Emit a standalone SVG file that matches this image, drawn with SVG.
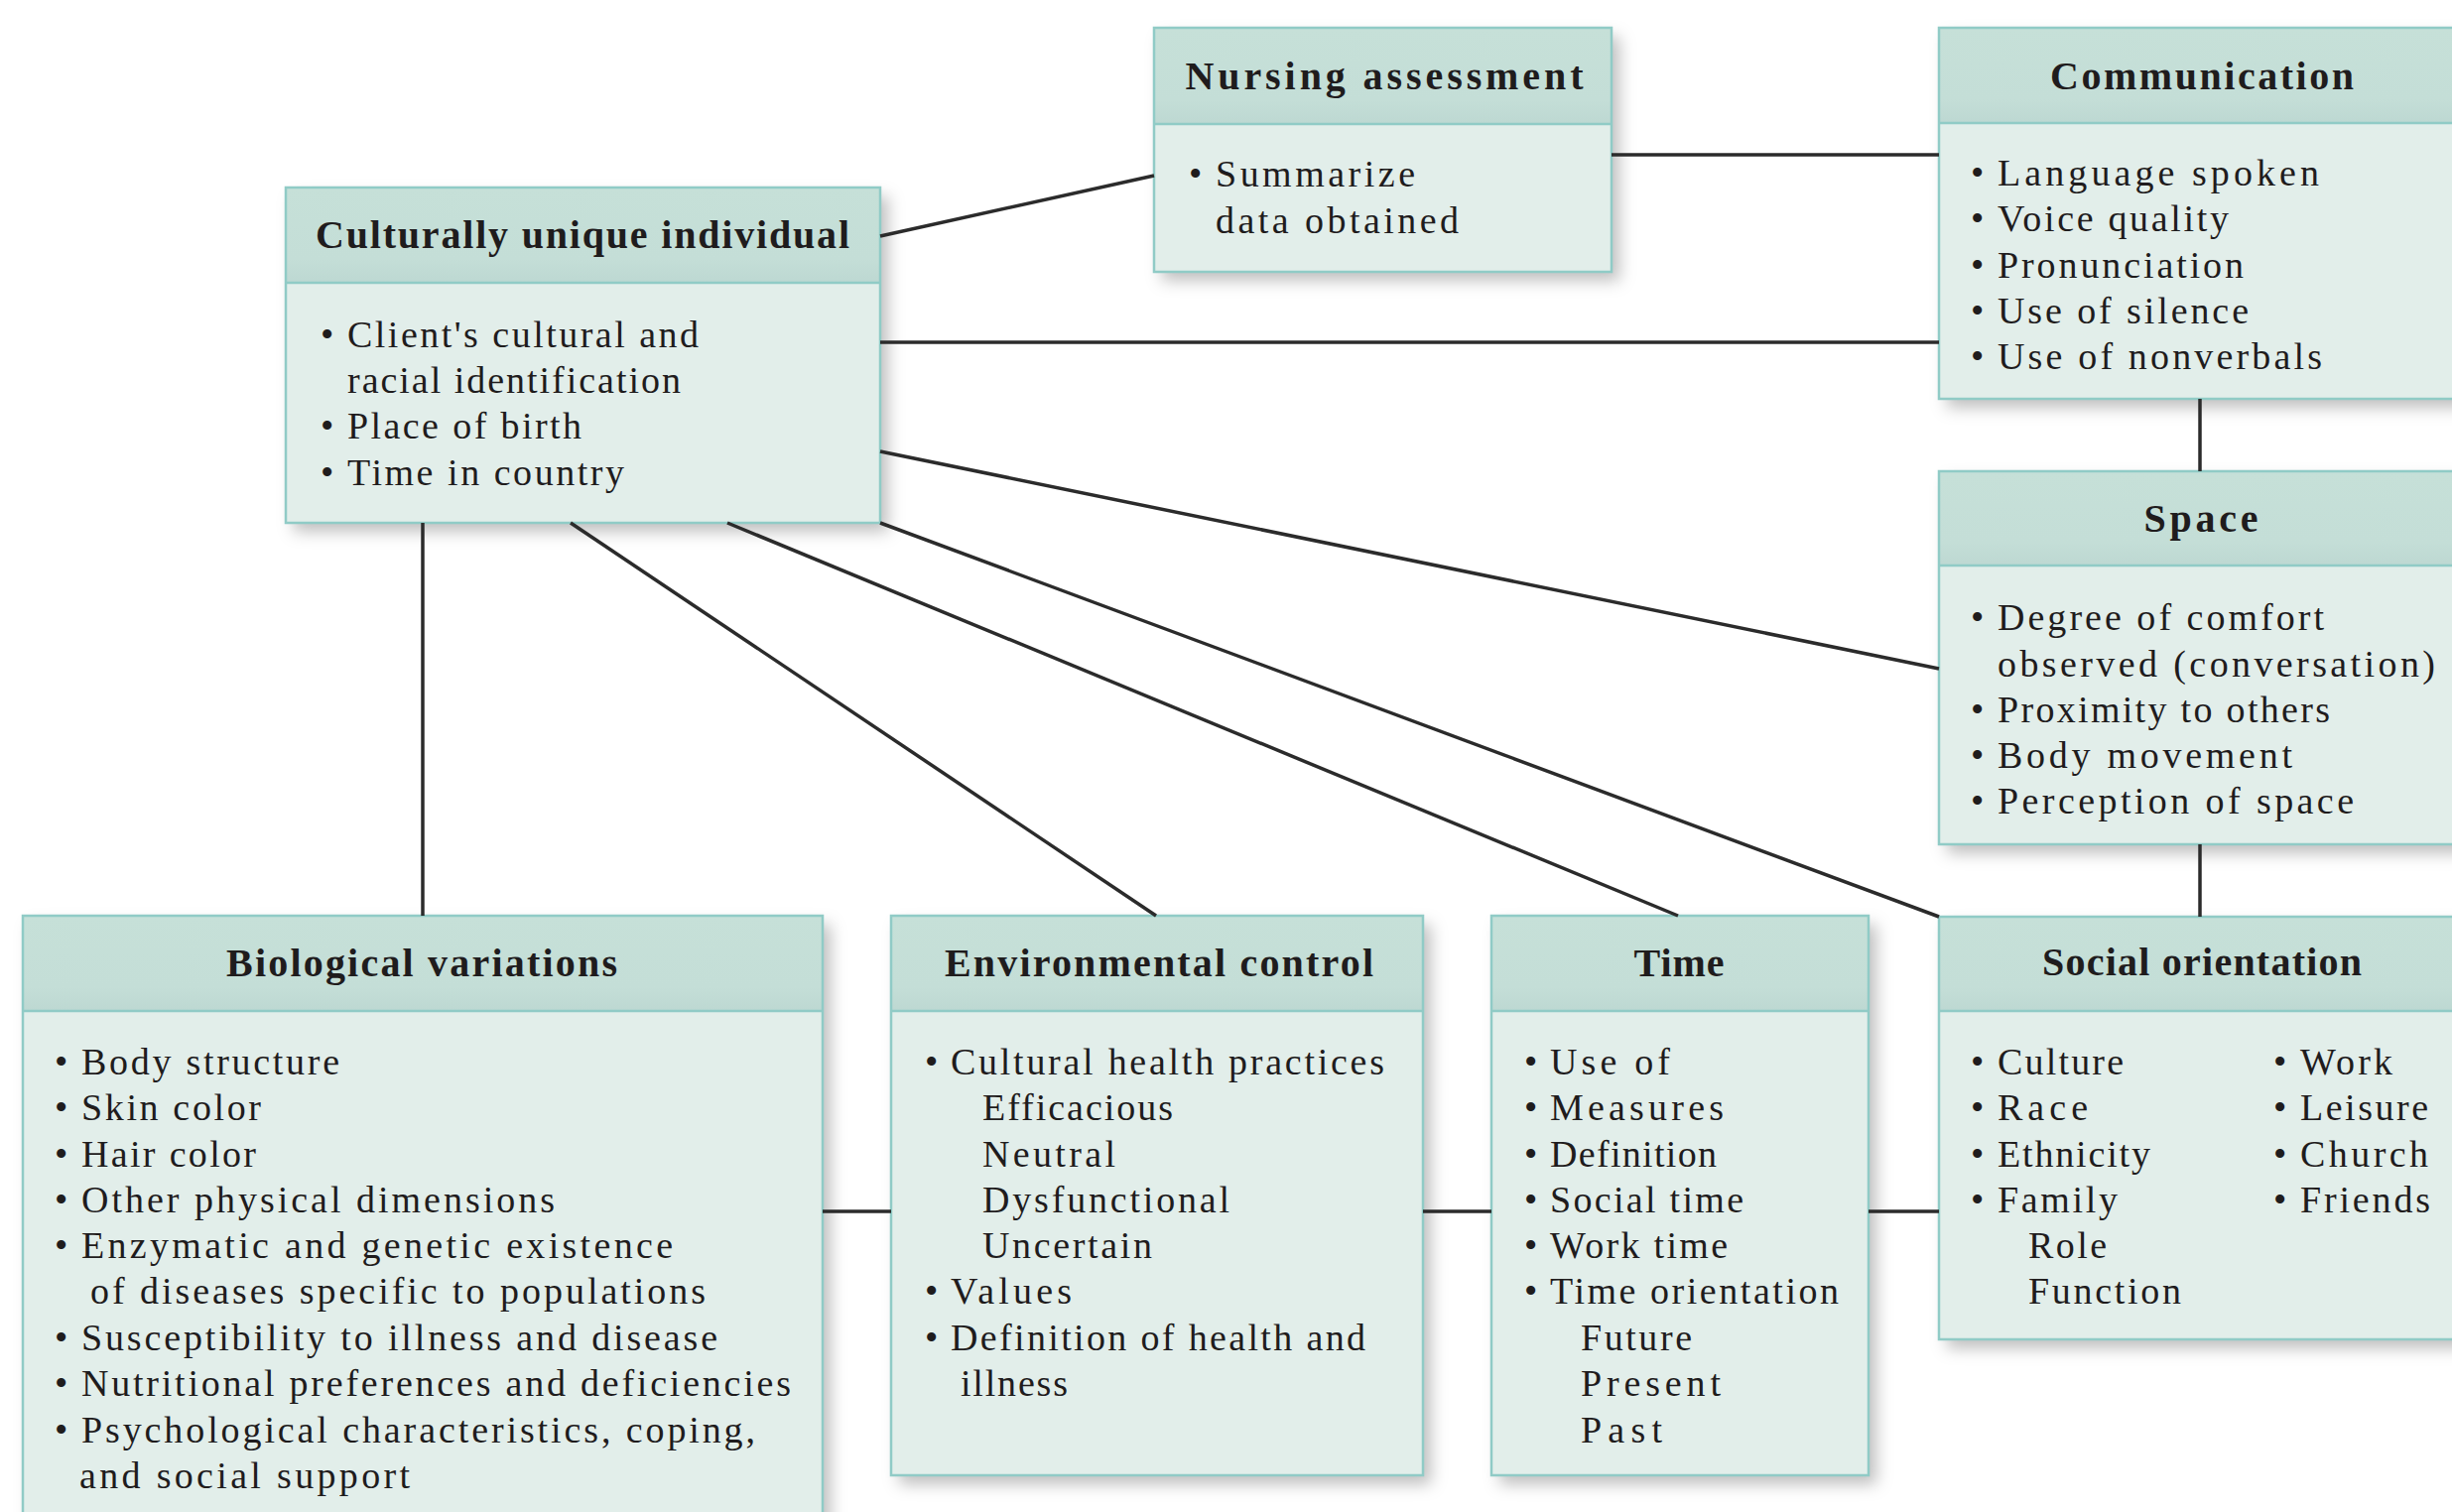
<svg xmlns="http://www.w3.org/2000/svg" width="2471" height="1524" viewBox="0 0 2471 1524">
<style>
.bg{fill:#ffffff}
.body{fill:#e2eeea}
.hdr{fill:url(#hg)}
.bx{fill:none;stroke:#90cbc6;stroke-width:2.5}
.div{stroke:#90cbc6;stroke-width:2.5}
.h{font-family:"Liberation Serif","Times New Roman",serif;font-weight:bold;font-size:40px;fill:#1f1c1d;text-anchor:middle}
.t{font-family:"Liberation Serif","Times New Roman",serif;font-size:38px;fill:#1f1c1d}
.c{stroke:#2b2b2b;stroke-width:3.5;fill:none;stroke-linecap:butt}
</style>
<defs>
<linearGradient id="hg" x1="0" y1="0" x2="0" y2="1">
<stop offset="0" stop-color="#c6e0d8"/>
<stop offset="0.75" stop-color="#c4ded7"/>
<stop offset="1" stop-color="#bdd8d2"/>
</linearGradient>
<filter id="sh" x="-10%" y="-10%" width="130%" height="130%">
<feDropShadow dx="8" dy="9" stdDeviation="8" flood-color="#000" flood-opacity="0.25"/>
</filter>
</defs>
<rect class="bg" x="0" y="0" width="2471" height="1524"/>

<g id="culturally-unique-individual">
<rect class="body" x="288" y="189" width="599" height="338" filter="url(#sh)"/>
<rect class="hdr" x="288" y="189" width="599" height="96"/>
<line class="div" x1="288" y1="285" x2="887" y2="285"/>
<rect class="bx" x="288" y="189" width="599" height="338"/>
<text class="h" x="587" y="250" textLength="538" lengthAdjust="spacing">Culturally unique individual</text>
<text class="t" x="323" y="350">•</text><text class="t" x="350" y="350" textLength="354" lengthAdjust="spacing">Client's cultural and</text>
<text class="t" x="350" y="396" textLength="336" lengthAdjust="spacing">racial identification</text>
<text class="t" x="323" y="442">•</text><text class="t" x="350" y="442" textLength="236" lengthAdjust="spacing">Place of birth</text>
<text class="t" x="323" y="489">•</text><text class="t" x="350" y="489" textLength="279" lengthAdjust="spacing">Time in country</text>
</g>

<g id="nursing-assessment">
<rect class="body" x="1163" y="28" width="461" height="246" filter="url(#sh)"/>
<rect class="hdr" x="1163" y="28" width="461" height="97"/>
<line class="div" x1="1163" y1="125" x2="1624" y2="125"/>
<rect class="bx" x="1163" y="28" width="461" height="246"/>
<text class="h" x="1395" y="90" textLength="401" lengthAdjust="spacing">Nursing assessment</text>
<text class="t" x="1198" y="188">•</text><text class="t" x="1225" y="188" textLength="201" lengthAdjust="spacing">Summarize</text>
<text class="t" x="1225" y="235" textLength="245" lengthAdjust="spacing">data obtained</text>
</g>

<g id="communication">
<rect class="body" x="1954" y="28" width="530" height="374" filter="url(#sh)"/>
<rect class="hdr" x="1954" y="28" width="530" height="96"/>
<line class="div" x1="1954" y1="124" x2="2484" y2="124"/>
<rect class="bx" x="1954" y="28" width="530" height="374"/>
<text class="h" x="2219" y="90" textLength="306" lengthAdjust="spacing">Communication</text>
<text class="t" x="1986" y="187">•</text><text class="t" x="2013" y="187" textLength="324" lengthAdjust="spacing">Language spoken</text>
<text class="t" x="1986" y="233">•</text><text class="t" x="2013" y="233" textLength="233" lengthAdjust="spacing">Voice quality</text>
<text class="t" x="1986" y="280">•</text><text class="t" x="2013" y="280" textLength="248" lengthAdjust="spacing">Pronunciation</text>
<text class="t" x="1986" y="326">•</text><text class="t" x="2013" y="326" textLength="253" lengthAdjust="spacing">Use of silence</text>
<text class="t" x="1986" y="372">•</text><text class="t" x="2013" y="372" textLength="327" lengthAdjust="spacing">Use of nonverbals</text>
</g>

<g id="space">
<rect class="body" x="1954" y="475" width="530" height="376" filter="url(#sh)"/>
<rect class="hdr" x="1954" y="475" width="530" height="95"/>
<line class="div" x1="1954" y1="570" x2="2484" y2="570"/>
<rect class="bx" x="1954" y="475" width="530" height="376"/>
<text class="h" x="2218" y="536" textLength="115" lengthAdjust="spacing">Space</text>
<text class="t" x="1986" y="635">•</text><text class="t" x="2013" y="635" textLength="329" lengthAdjust="spacing">Degree of comfort</text>
<text class="t" x="2013" y="682" textLength="441" lengthAdjust="spacing">observed (conversation)</text>
<text class="t" x="1986" y="728">•</text><text class="t" x="2013" y="728" textLength="335" lengthAdjust="spacing">Proximity to others</text>
<text class="t" x="1986" y="774">•</text><text class="t" x="2013" y="774" textLength="297" lengthAdjust="spacing">Body movement</text>
<text class="t" x="1986" y="820">•</text><text class="t" x="2013" y="820" textLength="359" lengthAdjust="spacing">Perception of space</text>
</g>

<g id="biological-variations">
<rect class="body" x="23" y="923" width="806" height="640" filter="url(#sh)"/>
<rect class="hdr" x="23" y="923" width="806" height="96"/>
<line class="div" x1="23" y1="1019" x2="829" y2="1019"/>
<rect class="bx" x="23" y="923" width="806" height="640"/>
<text class="h" x="425" y="984" textLength="394" lengthAdjust="spacing">Biological variations</text>
<text class="t" x="55" y="1083">•</text><text class="t" x="82" y="1083" textLength="260" lengthAdjust="spacing">Body structure</text>
<text class="t" x="55" y="1129">•</text><text class="t" x="82" y="1129" textLength="181" lengthAdjust="spacing">Skin color</text>
<text class="t" x="55" y="1176">•</text><text class="t" x="82" y="1176" textLength="176" lengthAdjust="spacing">Hair color</text>
<text class="t" x="55" y="1222">•</text><text class="t" x="82" y="1222" textLength="477" lengthAdjust="spacing">Other physical dimensions</text>
<text class="t" x="55" y="1268">•</text><text class="t" x="82" y="1268" textLength="596" lengthAdjust="spacing">Enzymatic and genetic existence</text>
<text class="t" x="91" y="1314" textLength="620" lengthAdjust="spacing">of diseases specific to populations</text>
<text class="t" x="55" y="1361">•</text><text class="t" x="82" y="1361" textLength="641" lengthAdjust="spacing">Susceptibility to illness and disease</text>
<text class="t" x="55" y="1407">•</text><text class="t" x="82" y="1407" textLength="715" lengthAdjust="spacing">Nutritional preferences and deficiencies</text>
<text class="t" x="55" y="1454">•</text><text class="t" x="82" y="1454" textLength="679" lengthAdjust="spacing">Psychological characteristics, coping,</text>
<text class="t" x="80" y="1500" textLength="333" lengthAdjust="spacing">and social support</text>
</g>

<g id="environmental-control">
<rect class="body" x="898" y="923" width="536" height="564" filter="url(#sh)"/>
<rect class="hdr" x="898" y="923" width="536" height="96"/>
<line class="div" x1="898" y1="1019" x2="1434" y2="1019"/>
<rect class="bx" x="898" y="923" width="536" height="564"/>
<text class="h" x="1168" y="984" textLength="432" lengthAdjust="spacing">Environmental control</text>
<text class="t" x="932" y="1083">•</text><text class="t" x="958" y="1083" textLength="437" lengthAdjust="spacing">Cultural health practices</text>
<text class="t" x="990" y="1129" textLength="192" lengthAdjust="spacing">Efficacious</text>
<text class="t" x="990" y="1176" textLength="134" lengthAdjust="spacing">Neutral</text>
<text class="t" x="990" y="1222" textLength="249" lengthAdjust="spacing">Dysfunctional</text>
<text class="t" x="990" y="1268" textLength="171" lengthAdjust="spacing">Uncertain</text>
<text class="t" x="932" y="1314">•</text><text class="t" x="958" y="1314" textLength="122" lengthAdjust="spacing">Values</text>
<text class="t" x="932" y="1361">•</text><text class="t" x="958" y="1361" textLength="418" lengthAdjust="spacing">Definition of health and</text>
<text class="t" x="968" y="1407" textLength="108" lengthAdjust="spacing">illness</text>
</g>

<g id="time">
<rect class="body" x="1503" y="923" width="380" height="564" filter="url(#sh)"/>
<rect class="hdr" x="1503" y="923" width="380" height="96"/>
<line class="div" x1="1503" y1="1019" x2="1883" y2="1019"/>
<rect class="bx" x="1503" y="923" width="380" height="564"/>
<text class="h" x="1692" y="984" textLength="91" lengthAdjust="spacing">Time</text>
<text class="t" x="1536" y="1083">•</text><text class="t" x="1562" y="1083" textLength="121" lengthAdjust="spacing">Use of</text>
<text class="t" x="1536" y="1129">•</text><text class="t" x="1562" y="1129" textLength="175" lengthAdjust="spacing">Measures</text>
<text class="t" x="1536" y="1176">•</text><text class="t" x="1562" y="1176" textLength="168" lengthAdjust="spacing">Definition</text>
<text class="t" x="1536" y="1222">•</text><text class="t" x="1562" y="1222" textLength="195" lengthAdjust="spacing">Social time</text>
<text class="t" x="1536" y="1268">•</text><text class="t" x="1562" y="1268" textLength="179" lengthAdjust="spacing">Work time</text>
<text class="t" x="1536" y="1314">•</text><text class="t" x="1562" y="1314" textLength="291" lengthAdjust="spacing">Time orientation</text>
<text class="t" x="1593" y="1361" textLength="112" lengthAdjust="spacing">Future</text>
<text class="t" x="1593" y="1407" textLength="141" lengthAdjust="spacing">Present</text>
<text class="t" x="1593" y="1454" textLength="82" lengthAdjust="spacing">Past</text>
</g>

<g id="social-orientation">
<rect class="body" x="1954" y="924" width="530" height="426" filter="url(#sh)"/>
<rect class="hdr" x="1954" y="924" width="530" height="95"/>
<line class="div" x1="1954" y1="1019" x2="2484" y2="1019"/>
<rect class="bx" x="1954" y="924" width="530" height="426"/>
<text class="h" x="2219" y="983" textLength="322" lengthAdjust="spacing">Social orientation</text>
<text class="t" x="1986" y="1083">•</text><text class="t" x="2013" y="1083" textLength="127" lengthAdjust="spacing">Culture</text>
<text class="t" x="1986" y="1129">•</text><text class="t" x="2013" y="1129" textLength="91" lengthAdjust="spacing">Race</text>
<text class="t" x="1986" y="1176">•</text><text class="t" x="2013" y="1176" textLength="154" lengthAdjust="spacing">Ethnicity</text>
<text class="t" x="1986" y="1222">•</text><text class="t" x="2013" y="1222" textLength="121" lengthAdjust="spacing">Family</text>
<text class="t" x="2044" y="1268" textLength="79" lengthAdjust="spacing">Role</text>
<text class="t" x="2044" y="1314" textLength="154" lengthAdjust="spacing">Function</text>
<text class="t" x="2291" y="1083">•</text><text class="t" x="2318" y="1083" textLength="93" lengthAdjust="spacing">Work</text>
<text class="t" x="2291" y="1129">•</text><text class="t" x="2318" y="1129" textLength="129" lengthAdjust="spacing">Leisure</text>
<text class="t" x="2291" y="1176">•</text><text class="t" x="2318" y="1176" textLength="129" lengthAdjust="spacing">Church</text>
<text class="t" x="2291" y="1222">•</text><text class="t" x="2318" y="1222" textLength="131" lengthAdjust="spacing">Friends</text>
</g>

<g id="connectors">
<line class="c" x1="887" y1="238" x2="1163" y2="177"/>
<line class="c" x1="1624" y1="156" x2="1954" y2="156"/>
<line class="c" x1="887" y1="345" x2="1954" y2="345"/>
<line class="c" x1="887" y1="455" x2="1954" y2="674"/>
<line class="c" x1="887" y1="527" x2="1954" y2="924"/>
<line class="c" x1="733" y1="527" x2="1691" y2="923"/>
<line class="c" x1="575" y1="527" x2="1165" y2="923"/>
<line class="c" x1="426" y1="527" x2="426" y2="923"/>
<line class="c" x1="2217" y1="402" x2="2217" y2="475"/>
<line class="c" x1="2217" y1="851" x2="2217" y2="924"/>
<line class="c" x1="829" y1="1221" x2="898" y2="1221"/>
<line class="c" x1="1434" y1="1221" x2="1503" y2="1221"/>
<line class="c" x1="1883" y1="1221" x2="1954" y2="1221"/>
</g>
</svg>
